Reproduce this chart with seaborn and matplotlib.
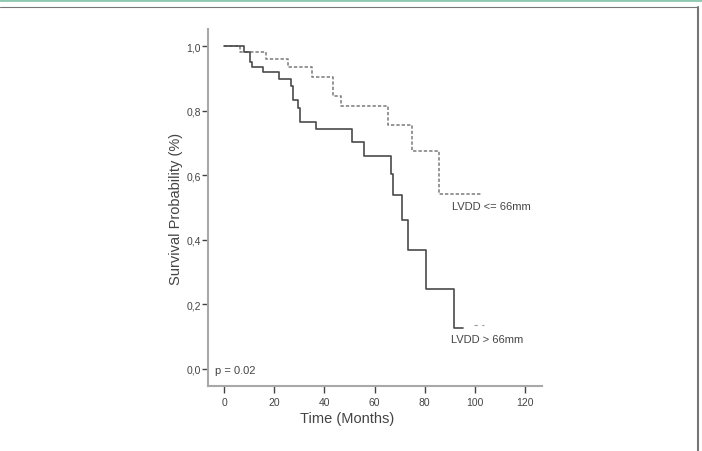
import matplotlib
matplotlib.use("Agg")
import matplotlib.pyplot as plt
import pandas as pd
import seaborn as sns
from matplotlib.lines import Line2D

# Kaplan-Meier step values
time_big = [0, 8, 10.4, 11.2, 15.5, 22, 26.7, 27.5, 29.5, 30.3, 36.7, 51, 55.8,
            66.6, 67.4, 71, 73.4, 80.5, 91.7, 95.4]
surv_big = [1.0, 0.982, 0.950, 0.935, 0.920, 0.898, 0.876, 0.833, 0.808, 0.765,
            0.743, 0.703, 0.659, 0.604, 0.539, 0.461, 0.368, 0.248, 0.127, 0.127]
time_small = [0, 6.4, 16.8, 25.5, 35, 43.5, 46.7, 65.4, 75, 85.7, 102.5]
surv_small = [1.0, 0.982, 0.960, 0.935, 0.905, 0.846, 0.815, 0.755, 0.675, 0.542, 0.542]
tail_time = [99.5, 103.5]
tail_surv = [0.135, 0.135]

x_ticks = [0, 20, 40, 60, 80, 100, 120]
y_ticks = [0.0, 0.2, 0.4, 0.6, 0.8, 1.0]
y_labels = ["0,0", "0,2", "0,4", "0,6", "0,8", "1,0"]

sns.set_style("white")
plt.rcParams['font.family'] = ['Liberation Sans Narrow', 'Liberation Sans', 'DejaVu Sans']

big = pd.DataFrame({'t': time_big, 's': surv_big})
small = pd.DataFrame({'t': time_small, 's': surv_small})
tail = pd.DataFrame({'t': tail_time, 's': tail_surv})

fig = plt.figure(figsize=(7.02, 4.52), dpi=100)
ax = fig.add_axes([0.2963, 0.1438, 0.4758, 0.7898])

sns.lineplot(data=small, x='t', y='s', ax=ax, drawstyle='steps-post',
             color='#7a7a7a', lw=1.1, linestyle=(0, (2.2, 1.3)))
sns.lineplot(data=big, x='t', y='s', ax=ax, drawstyle='steps-post',
             color='#4a4a4a', lw=1.2)
sns.lineplot(data=tail, x='t', y='s', ax=ax, color='#9a9a9a', lw=0.8,
             linestyle=(0, (3, 4)))

ax.set_xlim(-6.4, 126.8)
ax.set_ylim(-0.053, 1.053)
ax.set_xticks(x_ticks)
ax.set_yticks(y_ticks)
ax.set_yticklabels(y_labels)

for s in ['top', 'right']:
    ax.spines[s].set_visible(False)
for s in ['left', 'bottom']:
    ax.spines[s].set_color('#a8a8a8')
    ax.spines[s].set_linewidth(1.5)

ax.tick_params(axis='both', direction='out', color='#444444', width=1.0,
               labelsize=7.5, labelcolor='#444444', bottom=True, left=True)
ax.tick_params(axis='y', length=4, pad=1)
ax.tick_params(axis='x', length=5, pad=3)

ax.set_xlabel('Time (Months)', fontsize=10.5, color='#444444')
ax.set_ylabel('Survival Probability (%)', fontsize=10.5, color='#444444')
ax.xaxis.set_label_coords(0.416, -0.07)
ax.yaxis.set_label_coords(-0.075, 0.5)

ax.text(91, 0.505, 'LVDD <= 66mm', fontsize=8, color='#444444', va='center')
ax.text(90.5, 0.093, 'LVDD > 66mm', fontsize=8, color='#444444', va='center')
ax.text(-3.5, -0.003, 'p = 0.02', fontsize=8, color='#444444', va='center')

# page frame
fig.add_artist(Line2D([0, 1], [0.997, 0.997], transform=fig.transFigure,
                      color='#8cc9b0', lw=2))
fig.add_artist(Line2D([0, 0.9943], [0.982, 0.982], transform=fig.transFigure,
                      color='#777777', lw=0.8))
fig.add_artist(Line2D([0.9943, 0.9943], [0, 0.982], transform=fig.transFigure,
                      color='#777777', lw=1.5))

fig.savefig('out.png', dpi=100)
